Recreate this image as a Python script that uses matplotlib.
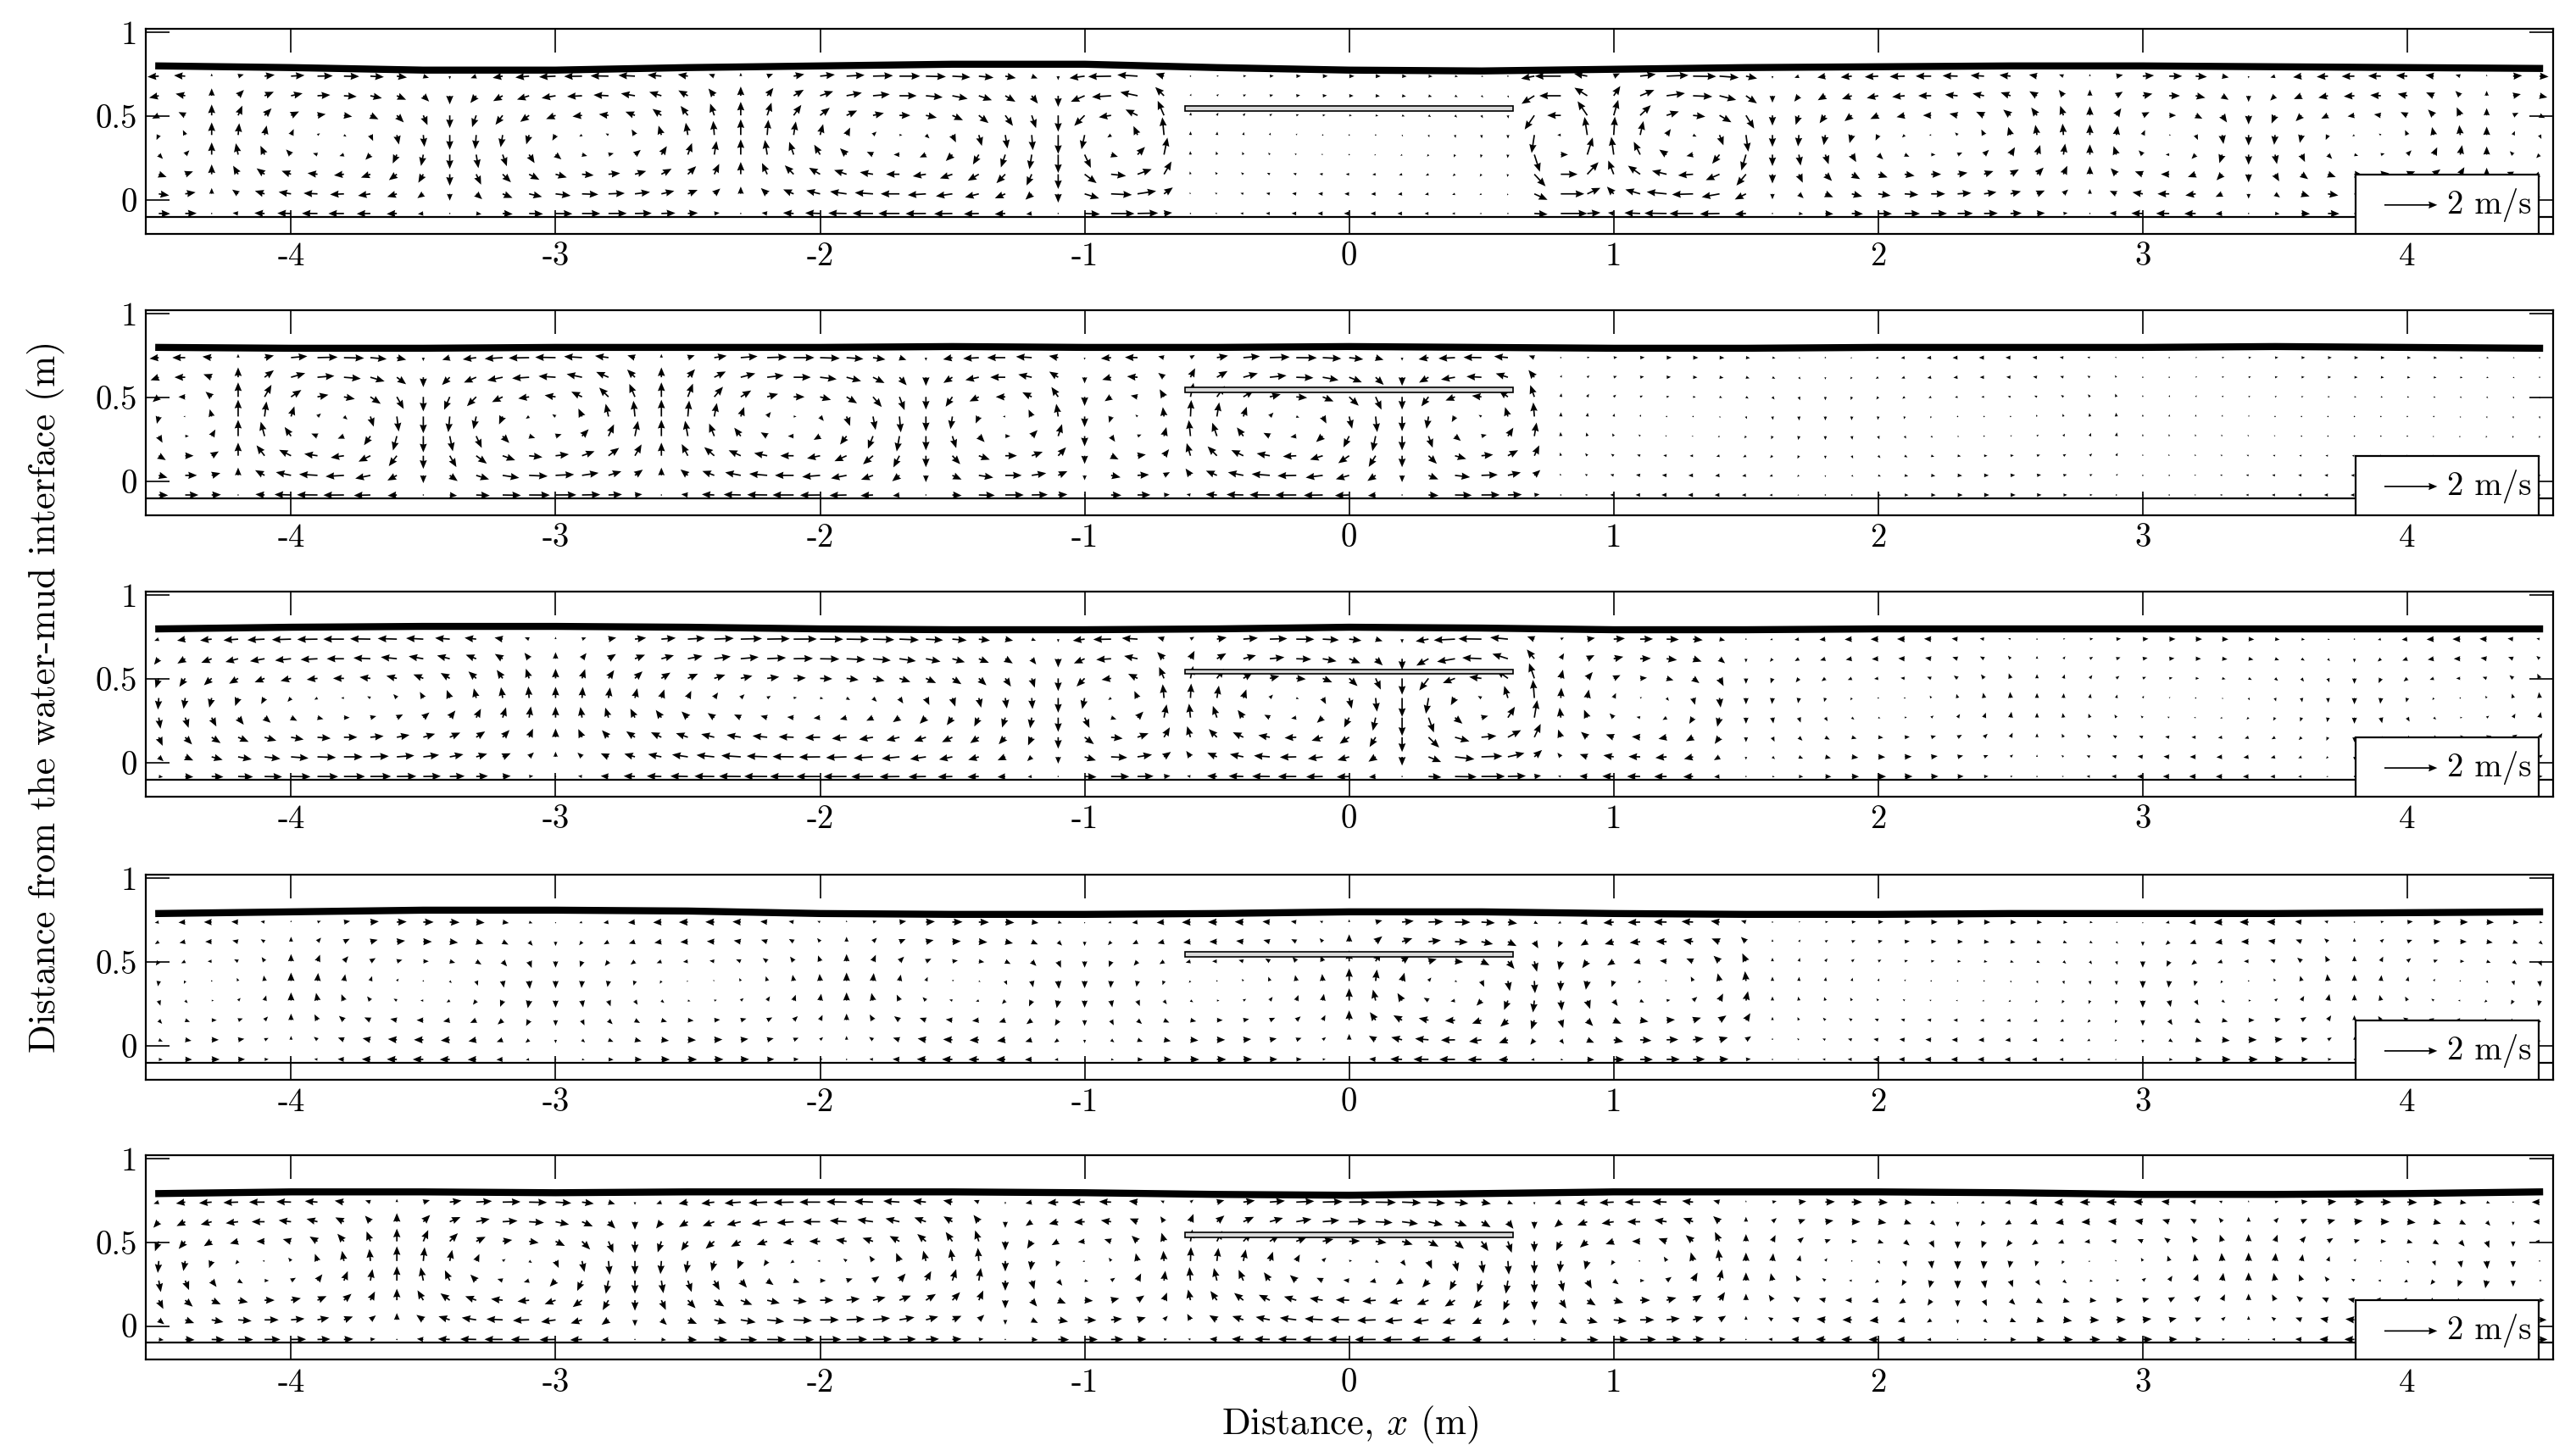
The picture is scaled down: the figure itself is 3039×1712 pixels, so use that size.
import numpy as np
import matplotlib
matplotlib.use("Agg")
from matplotlib import pyplot as plt
from matplotlib.patches import Rectangle

plt.rcParams['font.family'] = ['cmr10', 'DejaVu Serif']
plt.rcParams['mathtext.fontset'] = 'cm'
plt.rcParams['axes.unicode_minus'] = False
plt.rcParams['axes.formatter.use_mathtext'] = False

# grid of velocity samples
x_grid = np.round(np.arange(-4.5, 4.51, 0.1), 2)
y_grid = np.round(-0.08 + 0.117*np.arange(8), 3)

# free surface elevation, read every 0.5 m
x_surf = np.arange(-4.5, 4.51, 0.5)
surf = [
    [0.80, 0.79, 0.775, 0.775, 0.79, 0.80, 0.81, 0.81, 0.79, 0.775, 0.77, 0.78, 0.79, 0.795, 0.80, 0.80, 0.795, 0.79, 0.785],
    [0.80, 0.795, 0.795, 0.80, 0.80, 0.80, 0.805, 0.80, 0.80, 0.805, 0.80, 0.795, 0.795, 0.80, 0.80, 0.80, 0.805, 0.80, 0.795],
    [0.80, 0.81, 0.815, 0.815, 0.81, 0.80, 0.795, 0.795, 0.80, 0.81, 0.805, 0.795, 0.795, 0.80, 0.80, 0.80, 0.80, 0.80, 0.80],
    [0.79, 0.80, 0.81, 0.81, 0.805, 0.79, 0.785, 0.785, 0.79, 0.80, 0.80, 0.79, 0.785, 0.785, 0.79, 0.79, 0.79, 0.795, 0.80],
    [0.79, 0.80, 0.80, 0.795, 0.80, 0.80, 0.80, 0.795, 0.785, 0.78, 0.79, 0.80, 0.80, 0.80, 0.795, 0.785, 0.785, 0.79, 0.80],
]

# circulation cells: cell edges (vertical-flow columns) and
# signed near-surface horizontal speed (m/s) of each cell between edges
cell_edges = [
    [-4.6, -4.3, -3.4, -2.3, -1.1, -0.65, 0.65, 0.95, 1.6, 2.8, 3.4, 4.3, 4.6],
    [-4.6, -4.2, -3.5, -2.6, -1.6, -1.0, -0.65, 0.2, 0.75, 1.8, 3.0, 4.6],
    [-4.6, -3.0, -1.1, -0.65, 0.2, 0.75, 1.5, 2.6, 3.8, 4.6],
    [-4.6, -4.0, -3.0, -1.9, -1.0, 0.0, 0.75, 1.6, 3.0, 3.8, 4.6],
    [-4.6, -3.6, -2.7, -1.3, -0.65, 0.7, 1.5, 2.3, 3.4, 4.4, 4.6],
]
cell_amp = [
    [0.5, -0.6, 0.7, -0.8, 0.9, -0.2, 1.0, -0.9, 0.6, -0.5, 0.5, -0.4],
    [0.5, -0.8, 0.8, -0.8, 0.7, 0.5, -0.8, 0.7, -0.2, 0.2, -0.15],
    [0.8, -0.9, 0.7, -0.7, 0.9, -0.5, 0.3, -0.25, 0.3],
    [0.3, -0.4, 0.35, -0.4, 0.35, -0.6, 0.5, -0.25, 0.35, -0.3],
    [0.6, -0.7, 0.8, 0.5, -0.8, 0.6, -0.4, 0.4, -0.4, 0.3],
]

plate_x = [-0.62, 0.62]
plate_y = [0.53, 0.56]


def velocity(edges, amps, X, Y):
    H = 0.9
    eta = (Y + 0.1)/H
    U = np.zeros_like(X)
    V = np.zeros_like(X)
    for a, b, A in zip(edges[:-1], edges[1:], amps):
        L = b - a
        m = (X >= a) & (X < b)
        xi = (X - a)/L
        U += np.where(m, A*np.sin(np.pi*xi)*np.cos(np.pi*eta), 0)
        V += np.where(m, -A*min(H/L, 0.8)*np.cos(np.pi*xi)*np.sin(np.pi*eta), 0)
    return U, V


fig = plt.figure(figsize=(3039/200, 1712/200), dpi=200)
tops = [0.980, 0.786, 0.592, 0.397, 0.204]
h = 0.141
X, Y = np.meshgrid(x_grid, y_grid)
for i in range(5):
    ax = fig.add_axes([0.0565, tops[i]-h, 0.9345, h])
    U, V = velocity(cell_edges[i], cell_amp[i], X, Y)
    q = ax.quiver(X, Y, U, V, angles='xy', scale_units='x', scale=10,
                  width=0.0006, headwidth=5, headlength=6, headaxislength=5.5,
                  color='black')
    ax.plot(x_surf, surf[i], color='black', linewidth=3)
    ax.axhline(-0.1, color='black', linewidth=0.8)
    ax.add_patch(Rectangle((plate_x[0], plate_y[0]), plate_x[1]-plate_x[0],
                           plate_y[1]-plate_y[0], facecolor='0.85',
                           edgecolor='black', linewidth=0.6))
    ax.add_patch(Rectangle((0.918, 0.0), 0.076, 0.29, transform=ax.transAxes,
                           facecolor='white', edgecolor='black', linewidth=0.8,
                           zorder=5))
    ax.quiverkey(q, 0.952, 0.14, 2, '2 m/s', labelpos='E', coordinates='axes',
                 labelsep=0.06, fontproperties={'size': 14}, zorder=6)
    ax.set_xlim(-4.55, 4.55)
    ax.set_ylim(-0.2, 1.02)
    ax.set_xticks(np.arange(-4, 5, 1))
    ax.set_yticks([0, 0.5, 1])
    ax.set_yticklabels(['0', '0.5', '1'])
    ax.set_xticklabels([str(v) for v in range(-4, 5)])
    ax.tick_params(direction='in', length=10, width=0.6, top=True, right=True,
                   labelsize=14)
    for s in ax.spines.values():
        s.set_linewidth(0.8)

fig.text(0.018, 0.52, 'Distance from the water-mud interface (m)', rotation=90,
         va='center', ha='center', fontsize=16)
fig.text(0.524, 0.018, 'Distance, $x$ (m)', ha='center', va='center', fontsize=16)
plt.savefig('out.png')
